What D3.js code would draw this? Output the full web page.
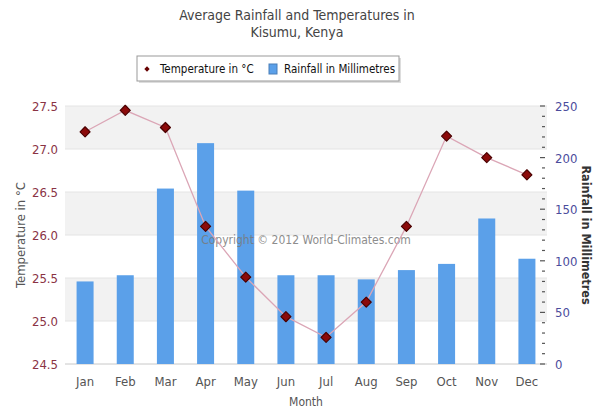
<!DOCTYPE html>
<html lang="en">
	<head>
		<meta charset="utf-8">
		<title>Kisumu rainfall and temperature</title>
		<script src="https://d3js.org/d3.v7.min.js"></script>
		<style type="text/css">
			body { margin: 0; background: #fff; }
			text { font-family: "DejaVu Sans Condensed", "DejaVu Sans", sans-serif; }
		</style>
	</head>
	<body>
		<script type="text/javascript">
			// data
			var months = ["Jan", "Feb", "Mar", "Apr", "May", "Jun", "Jul", "Aug", "Sep", "Oct", "Nov", "Dec"]
			var rainfall = [80, 86, 170, 214, 168, 86, 86, 82, 91, 97, 141, 102]
			var temperature = [27.2, 27.45, 27.25, 26.1, 25.51, 25.05, 24.81, 25.22, 26.1, 27.15, 26.9, 26.7]
			var tempTicks = [24.5, 25.0, 25.5, 26.0, 26.5, 27.0, 27.5]
			var rainTicks = [0, 50, 100, 150, 200, 250]

			var w = 594
			var h = 410
			var pL = 65, pR = 547, pT = 106, pB = 364

			var svg = d3.select("body")
						.append("svg")
						.attr("width", w)
						.attr("height", h)

			var xc = d3.scaleBand().domain(months).range([pL, pR])
			var yT = d3.scaleLinear().domain([24.5, 27.5]).range([pB, pT])
			var yR = d3.scaleLinear().domain([0, 250]).range([pB, pT])
			function cx(i) { return xc(months[i]) + xc.bandwidth() / 2 }

			// alternating bands
			svg.selectAll("rect.band")
				.data(d3.range(tempTicks.length - 1).filter(function(i) { return i % 2 == 1 }))
				.enter()
				.append("rect")
				.attr("class", "band")
				.attr("x", pL)
				.attr("width", pR - pL)
				.attr("y", function(i) { return yT(tempTicks[i + 1]) })
				.attr("height", function(i) { return yT(tempTicks[i]) - yT(tempTicks[i + 1]) })
				.style("fill", "#f2f2f2")

			// grid lines
			svg.selectAll("line.grid")
				.data(tempTicks)
				.enter()
				.append("line")
				.attr("x1", pL).attr("x2", pR)
				.attr("y1", function(d) { return yT(d) }).attr("y2", function(d) { return yT(d) })
				.style("stroke", function(d) { return d == 24.5 ? "#c8c8c8" : "#e4e4e4" })
				.style("stroke-width", 1)

			// bars
			svg.selectAll("rect.bar")
				.data(rainfall)
				.enter()
				.append("rect")
				.attr("x", function(d, i) { return cx(i) - 8.5 })
				.attr("width", 17)
				.attr("y", function(d) { return yR(d) })
				.attr("height", function(d) { return pB - yR(d) })
				.style("fill", "#5ba0e9")

			// watermark
			svg.append("text")
				.attr("x", 306).attr("y", 244)
				.attr("text-anchor", "middle")
				.style("font-size", "12px")
				.style("fill", "#7a7a7a")
				.style("opacity", 0.85)
				.text("Copyright \u00a9 2012 World-Climates.com")

			// temperature line
			var line = d3.line()
						.x(function(d, i) { return cx(i) })
						.y(function(d) { return yT(d) })

			svg.append("path")
				.datum(temperature)
				.attr("d", line)
				.style("fill", "none")
				.style("stroke", "#dba6b6")
				.style("stroke-width", 1.3)

			svg.selectAll("path.pt")
				.data(temperature)
				.enter()
				.append("path")
				.attr("d", d3.symbol().type(d3.symbolDiamond2).size(64))
				.attr("transform", function(d, i) { return "translate(" + cx(i) + "," + yT(d) + ")" })
				.style("fill", "#8b0a0a")
				.style("stroke", "#4a0000")
				.style("stroke-width", 1.2)
				.style("stroke-linejoin", "round")

			// left axis
			svg.selectAll("text.yl")
				.data(tempTicks)
				.enter()
				.append("text")
				.attr("x", 58)
				.attr("y", function(d) { return yT(d) + 5 })
				.attr("text-anchor", "end")
				.style("font-size", "13px")
				.style("fill", "#8a3344")
				.text(function(d) { return d.toFixed(1) })

			svg.append("text")
				.attr("transform", "translate(25," + ((pT + pB) / 2) + ") rotate(-90)")
				.attr("text-anchor", "middle")
				.style("font-size", "13px")
				.style("fill", "#555")
				.text("Temperature in \u00b0C")

			// right axis with minor ticks
			svg.selectAll("line.minor")
				.data(d3.range(0, 251, 10))
				.enter()
				.append("line")
				.attr("x1", function(d) { return d % 50 == 0 ? 540 : 542 })
				.attr("x2", 545)
				.attr("y1", function(d) { return yR(d) }).attr("y2", function(d) { return yR(d) })
				.style("stroke", "#555")
				.style("stroke-width", 1.2)

			svg.selectAll("text.yr")
				.data(rainTicks)
				.enter()
				.append("text")
				.attr("x", 555)
				.attr("y", function(d) { return yR(d) + 5 })
				.style("font-size", "13px")
				.style("fill", "#4b4c9c")
				.text(function(d) { return d })

			svg.append("text")
				.attr("transform", "translate(582," + ((pT + pB) / 2) + ") rotate(90)")
				.attr("text-anchor", "middle")
				.style("font-size", "12.5px")
				.style("font-weight", "600")
				.style("fill", "#333")
				.text("Rainfall in Millimetres")

			// x axis labels
			svg.selectAll("text.xl")
				.data(months)
				.enter()
				.append("text")
				.attr("x", function(d, i) { return cx(i) })
				.attr("y", 386)
				.attr("text-anchor", "middle")
				.style("font-size", "13px")
				.style("fill", "#555")
				.text(function(d) { return d })

			svg.append("text")
				.attr("x", (pL + pR) / 2).attr("y", 406)
				.attr("text-anchor", "middle")
				.style("font-size", "12px")
				.style("fill", "#555")
				.text("Month")

			// title
			svg.append("text")
				.attr("x", 297).attr("y", 20)
				.attr("text-anchor", "middle")
				.style("font-size", "14px")
				.style("fill", "#444")
				.text("Average Rainfall and Temperatures in")
			svg.append("text")
				.attr("x", 297).attr("y", 37)
				.attr("text-anchor", "middle")
				.style("font-size", "14px")
				.style("fill", "#444")
				.text("Kisumu, Kenya")

			// legend
			var lg = svg.append("g")
			lg.append("rect")
				.attr("x", 139).attr("y", 58).attr("width", 262).attr("height", 25)
				.style("fill", "#bbb").style("opacity", 0.5)
			lg.append("rect")
				.attr("x", 137).attr("y", 56).attr("width", 262).attr("height", 25)
				.style("fill", "#fff").style("stroke", "#999")
			lg.append("path")
				.attr("d", d3.symbol().type(d3.symbolDiamond2).size(18))
				.attr("transform", "translate(147,69)")
				.style("fill", "#600")
			lg.append("text")
				.attr("x", 160).attr("y", 73)
				.style("font-size", "11.5px")
				.style("fill", "#111")
				.text("Temperature in \u00b0C")
			lg.append("rect")
				.attr("x", 269).attr("y", 64).attr("width", 8).attr("height", 10)
				.style("fill", "#5ba0e9").style("stroke", "#4a7fb8")
			lg.append("text")
				.attr("x", 284).attr("y", 73)
				.style("font-size", "11.5px")
				.style("fill", "#111")
				.text("Rainfall in Millimetres")
		</script>
	</body>
</html>
